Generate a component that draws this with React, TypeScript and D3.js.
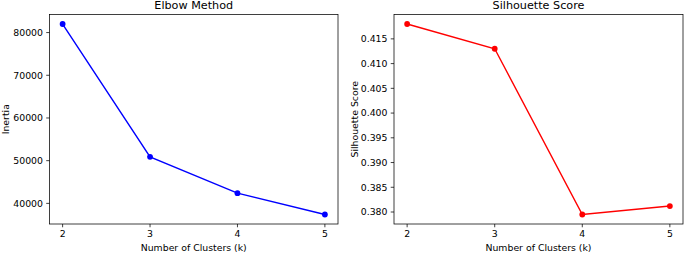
import React from "react";
import * as d3 from "d3";

const clusters = [2, 3, 4, 5];
const inertia = [82000, 50900, 42400, 37400];
const silhouette = [0.418, 0.413, 0.3795, 0.3812];
const inertiaTicks = [40000, 50000, 60000, 70000, 80000];
const silhouetteTicks = [0.38, 0.385, 0.39, 0.395, 0.4, 0.405, 0.41, 0.415];

const W = 685;
const H = 253;
const FONT = "DejaVu Sans, sans-serif";
const TICK = 3.27;
const PAD = 3.27;

type PanelProps = {
  left: number;
  right: number;
  top: number;
  bottom: number;
  values: number[];
  yTicks: number[];
  yFormat: (v: number) => string;
  color: string;
  title: string;
  ylabel: string;
  ylabelX: number;
};

function Panel(p: PanelProps) {
  const xMin = d3.min(clusters)!;
  const xMax = d3.max(clusters)!;
  const xm = (xMax - xMin) * 0.05;
  const x = d3.scaleLinear().domain([xMin - xm, xMax + xm]).range([p.left, p.right]);
  const yMin = d3.min(p.values)!;
  const yMax = d3.max(p.values)!;
  const ym = (yMax - yMin) * 0.05;
  const y = d3.scaleLinear().domain([yMin - ym, yMax + ym]).range([p.bottom, p.top]);
  const line = d3
    .line<number>()
    .x((_, i) => x(clusters[i]))
    .y((d) => y(d));
  const cx = (p.left + p.right) / 2;
  const cy = (p.top + p.bottom) / 2;
  return (
    <g fontFamily={FONT} fill="#000">
      <path d={line(p.values) || ""} fill="none" stroke={p.color} strokeWidth={1.4} />
      {p.values.map((v, i) => (
        <circle key={i} cx={x(clusters[i])} cy={y(v)} r={2.9} fill={p.color} />
      ))}
      <rect
        x={p.left}
        y={p.top}
        width={p.right - p.left}
        height={p.bottom - p.top}
        fill="none"
        stroke="#000"
        strokeWidth={0.75}
      />
      {clusters.map((c) => (
        <g key={c}>
          <line x1={x(c)} x2={x(c)} y1={p.bottom} y2={p.bottom + TICK} stroke="#000" strokeWidth={0.75} />
          <text x={x(c)} y={p.bottom + TICK + PAD + 6.9} textAnchor="middle" fontSize={9.33}>
            {c}
          </text>
        </g>
      ))}
      {p.yTicks.map((t) => (
        <g key={t}>
          <line x1={p.left - TICK} x2={p.left} y1={y(t)} y2={y(t)} stroke="#000" strokeWidth={0.75} />
          <text x={p.left - TICK - PAD} y={y(t) + 3.4} textAnchor="end" fontSize={9.33}>
            {p.yFormat(t)}
          </text>
        </g>
      ))}
      <text x={cx} y={8.8} textAnchor="middle" fontSize={11.2}>
        {p.title}
      </text>
      <text x={cx} y={251} textAnchor="middle" fontSize={9.33}>
        Number of Clusters (k)
      </text>
      <text
        transform={`translate(${p.ylabelX},${cy}) rotate(-90)`}
        textAnchor="middle"
        fontSize={9.33}
      >
        {p.ylabel}
      </text>
    </g>
  );
}

export default function App() {
  return (
    <svg
      width={W}
      height={H}
      style={{ position: "absolute", left: 0, top: 0, background: "#fff" }}
    >
      <rect width={W} height={H} fill="#fff" />
      <Panel
        left={49.5}
        right={338}
        top={14.5}
        bottom={224}
        values={inertia}
        yTicks={inertiaTicks}
        yFormat={(v) => d3.format("d")(v)}
        color="#0000ff"
        title="Elbow Method"
        ylabel="Inertia"
        ylabelX={8.6}
      />
      <Panel
        left={394}
        right={683}
        top={14.5}
        bottom={224}
        values={silhouette}
        yTicks={silhouetteTicks}
        yFormat={(v) => d3.format(".3f")(v)}
        color="#ff0000"
        title="Silhouette Score"
        ylabel="Silhouette Score"
        ylabelX={357.5}
      />
    </svg>
  );
}
